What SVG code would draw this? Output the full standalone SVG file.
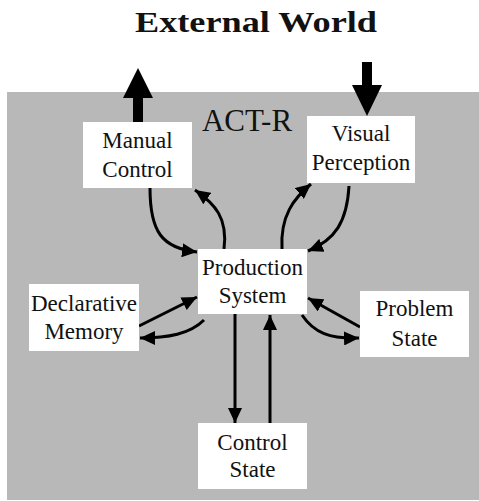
<svg xmlns="http://www.w3.org/2000/svg" width="479" height="501" viewBox="0 0 479 501">
  <defs>
    <marker id="head" markerUnits="userSpaceOnUse" markerWidth="16" markerHeight="14" refX="15" refY="7" orient="auto">
      <path d="M0,0 L15,7 L0,14 Z" fill="#000"/>
    </marker>
    <style>
      .box { fill: #fff; }
      .label { font-family: "Liberation Serif", "Times New Roman", serif; font-size: 23px; fill: #111; text-anchor: middle; }
      .link { fill: none; stroke: #000; stroke-width: 3; marker-end: url(#head); }
    </style>
  </defs>

  <rect x="0" y="0" width="479" height="501" fill="#fff"/>
  <!-- ACT-R architecture area -->
  <rect x="7" y="92" width="472" height="408" fill="#b8b8b8"/>

  <text x="256" y="32" font-family="Liberation Serif, 'Times New Roman', serif" font-weight="bold" font-size="30" text-anchor="middle" textLength="242" lengthAdjust="spacingAndGlyphs" fill="#111">External World</text>
  <text x="247" y="131" font-family="Liberation Serif, 'Times New Roman', serif" font-size="31" text-anchor="middle" fill="#111">ACT-R</text>

  <!-- output to / input from the external world -->
  <g id="world-io">
    <rect x="133" y="97" width="10" height="26" fill="#000"/>
    <polygon points="123,98 153,98 138,68" fill="#000"/>
    <rect x="362" y="62" width="10" height="24" fill="#000"/>
    <polygon points="352,85 382,85 367,116" fill="#000"/>
  </g>

  <g id="connectors">
    <path class="link" d="M150,188 C150,232 162,248 197,252"/>
    <path class="link" d="M224,249 C228,218 215,204 195,190"/>
    <path class="link" d="M282,249 C280,216 294,198 311,184"/>
    <path class="link" d="M349,186 C347,222 335,240 308,251"/>
    <path class="link" d="M139,326 L197,297"/>
    <path class="link" d="M204,320 C190,334 168,338 140,338"/>
    <path class="link" d="M360,327 L308,298"/>
    <path class="link" d="M302,315 C314,333 330,339 359,338"/>
    <path class="link" d="M235,314 L235,423"/>
    <path class="link" d="M270,423 L270,315"/>
  </g>

  <g id="manual-control">
    <rect class="box" x="83" y="122" width="109" height="66"/>
    <text class="label" x="137.5" y="148">Manual</text>
    <text class="label" x="137.5" y="177">Control</text>
  </g>

  <g id="visual-perception">
    <rect class="box" x="307" y="116" width="108" height="67"/>
    <text class="label" x="361" y="141">Visual</text>
    <text class="label" x="361" y="170">Perception</text>
  </g>

  <g id="production-system">
    <rect class="box" x="198" y="249" width="109" height="65"/>
    <text class="label" x="252.5" y="275">Production</text>
    <text class="label" x="252.5" y="303">System</text>
  </g>

  <g id="declarative-memory">
    <rect class="box" x="29" y="284" width="110" height="67"/>
    <text class="label" x="84" y="311">Declarative</text>
    <text class="label" x="84" y="339">Memory</text>
  </g>

  <g id="problem-state">
    <rect class="box" x="360" y="291" width="109" height="66"/>
    <text class="label" x="414.5" y="316">Problem</text>
    <text class="label" x="414.5" y="346">State</text>
  </g>

  <g id="control-state">
    <rect class="box" x="198" y="423" width="109" height="66"/>
    <text class="label" x="252.5" y="450">Control</text>
    <text class="label" x="252.5" y="477">State</text>
  </g>
</svg>
